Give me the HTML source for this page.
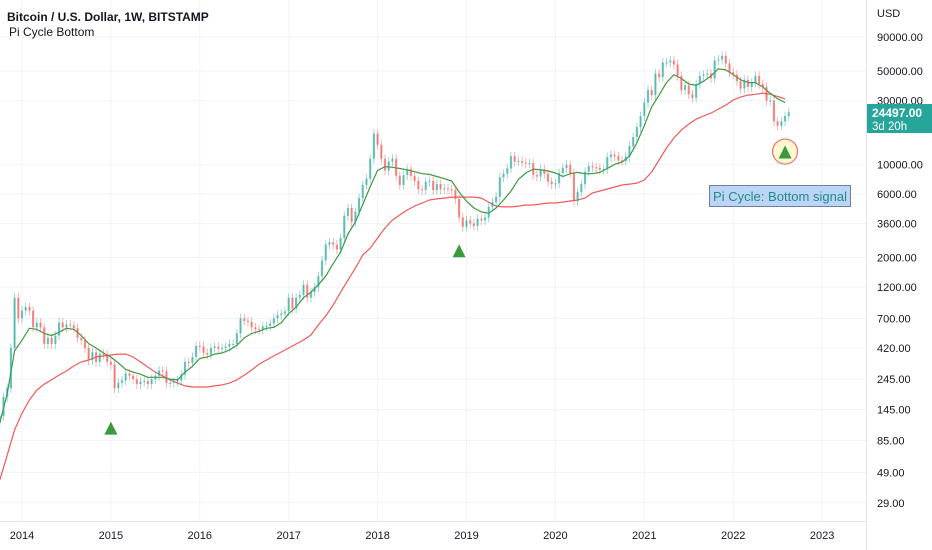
<!DOCTYPE html>
<html><head><meta charset="utf-8"><style>
html,body{margin:0;padding:0;background:#fff;width:932px;height:550px;overflow:hidden;font-family:"Liberation Sans",sans-serif;}
svg{display:block}
</style></head><body>
<svg id="chart" width="932" height="550" viewBox="0 0 932 550" xmlns="http://www.w3.org/2000/svg">
<g id="grid"></g>
<g id="lines"></g>
<g id="candles"></g>
<g id="marks"></g>
<g id="axes"></g>
<text x="7" y="21" font-size="12" fill="#131722" font-weight="bold">Bitcoin / U.S. Dollar, 1W, BITSTAMP</text>
<text x="9" y="36" font-size="12" fill="#131722">Pi Cycle Bottom</text>
</svg>
<script>
// Biweekly closes from Oct 2013
const closes=[130,180,210,420,1000,700,
800,850,800,600,650,600,450,500,450,520,650,600,630,620,590,500,480,420,340,390,330,380,375,330,
315,210,230,240,270,260,245,225,235,237,225,245,260,285,280,230,230,235,240,265,330,325,360,435,
430,385,375,420,430,415,420,430,450,450,540,700,670,660,600,580,575,610,615,640,700,740,760,790,
1000,830,1000,1050,1250,1000,1100,1200,1450,1900,2500,2600,2500,2300,2800,4100,4700,3700,4400,5600,7000,7800,11000,17000,
14000,11000,9000,10500,11000,8200,7000,8300,9200,8200,7500,6500,6400,7400,7500,6400,7100,6500,6600,6500,6400,5500,4000,3400,
3800,3600,3450,3900,3800,4000,4800,5200,5700,8000,8500,9300,11500,10500,10600,10300,10200,10200,8300,8100,9200,8500,7400,7100,
7200,8600,9400,9900,8600,5300,6200,7100,8800,9700,9500,9400,9100,9200,11300,11800,11500,10700,10600,11400,13700,16000,19000,23000,
29000,36000,33000,48000,45000,58000,58000,60000,56000,46000,36000,39000,33500,31500,40000,46000,47000,48000,44000,60000,61000,65000,57000,49000,
47000,42000,37000,43000,38000,41000,46000,40000,38000,30000,30000,21000,19500,21000,23000,24497];
// Monthly values from Oct 2013
const greenMA=[115,190,400,
480,590,580,540,520,550,590,580,520,453,420,385,
359,324,290,277,267,253,253,253,245,242,277,306,
350,359,378,385,405,440,500,540,560,590,600,650,
760,850,1000,1100,1250,1450,1800,2200,3000,3700,5000,6800,
9000,9600,9500,9300,9100,8800,8500,8400,8100,7800,7500,6200,
5300,4700,4400,4300,4700,5400,6300,7700,8600,9200,9100,8900,
8600,8100,8500,8700,8500,8500,8700,9300,10000,10400,11500,14500,
19500,27000,33000,41000,47000,44000,40000,39000,42000,46000,52000,51000,
47000,43000,41000,41000,38000,34000,31000,29000];
const redMA=[43,66,102,
136,171,203,225,242,263,282,308,330,341,359,366,
372,378,378,359,330,302,277,259,242,229,218,214,
214,214,218,222,229,242,263,287,318,341,366,392,
420,450,482,525,624,729,881,1100,1355,1667,2090,2355,
2800,3330,3820,4170,4540,4860,5130,5400,5500,5580,5680,5680,
5680,5680,5580,5210,4860,4790,4790,4860,4950,4950,5040,5130,
5130,5210,5310,5400,5580,6100,6310,6530,6760,7000,7110,7230,
7620,8750,10770,13240,15740,18070,20040,21830,23010,24210,25940,27800,
30340,31900,33000,33500,34200,33500,32300,30900];
const signalIdx=[30,124,212];
const signalLow=[150,3200,17600];
const yTicks=[90000,50000,30000,10000,6000,3600,2000,1200,700,420,245,145,85,49,29];
const yearLabels=["2014","2015","2016","2017","2018","2019","2020","2021","2022","2023"];
const lastPrice="24497.00", countdown="3d 20h";

const NS="http://www.w3.org/2000/svg";
const L90=Math.log10(90000);
function y(v){return 37+(L90-Math.log10(v))*133.4;}
function xt(t){return 22+(t-2014)*88.9;}
function xCandle(j){return xt(2013.75+j/24);}
function xMonth(i){return xt(2013.75+i/12);}
function mk(tag,attrs,parent){const e=document.createElementNS(NS,tag);for(const k in attrs)e.setAttribute(k,attrs[k]);parent.appendChild(e);return e;}

const grid=document.getElementById('grid'),axes=document.getElementById('axes'),lines=document.getElementById('lines'),cg=document.getElementById('candles'),marks=document.getElementById('marks'),svg=document.getElementById('chart');

yTicks.forEach(v=>{
  const yy=y(v);
  const g=mk('line',{x1:0,x2:866,y1:yy,y2:yy,stroke:'#f0f3fa','stroke-width':1},grid);
  
  
  const t=mk('text',{x:877,y:yy+4,'font-size':11,fill:'#131722'},axes);
  t.textContent=v.toFixed(2);
  
  
});
yearLabels.forEach(s=>{
  const xx=xt(+s);
  const g=mk('line',{x1:xx,x2:xx,y1:0,y2:521,stroke:'#f0f3fa','stroke-width':1},grid);
  
  
  const t=mk('text',{x:xx,y:539,'font-size':11,fill:'#131722','text-anchor':'middle'},axes);
  t.textContent=s;
  
  
});
const ax1=mk('line',{x1:866.5,x2:866.5,y1:0,y2:550,stroke:'#e0e3eb'},axes);


const ax2=mk('line',{x1:0,x2:866,y1:521.5,y2:521.5,stroke:'#e0e3eb'},axes);


const ut=mk('text',{x:877,y:17,'font-size':11,fill:'#131722'},axes);
ut.textContent="USD";



function path(arr,color,name){
  const d=arr.map((v,i)=>(i?'L':'M')+xMonth(i).toFixed(1)+','+y(v).toFixed(1)).join('');
  const p=mk('path',{d:d,fill:'none',stroke:color,'stroke-width':1.2,'stroke-linejoin':'round'},lines);
  
  
}
path(redMA,'#f05a5a','red-sma-line');
path(greenMA,'#3c9a3c','green-ema-line');

closes.forEach((c,j)=>{
  const o=j?closes[j-1]:c*0.9;
  const up=c>=o, col=up?'#26a69a':'#ef5350';
  const xx=xCandle(j);
  const hi=Math.max(o,c)*1.08, lo=Math.min(o,c)*0.92;
  const w=mk('line',{x1:xx,x2:xx,y1:y(hi),y2:y(lo),stroke:col,'stroke-width':0.8,opacity:0.55},cg);
  
  
  const top=y(Math.max(o,c)),bot=y(Math.min(o,c));
  const r=mk('rect',{x:xx-1.1,y:top,width:2.2,height:Math.max(1,bot-top),fill:col,opacity:0.6},cg);
  
  
});

signalIdx.forEach((j,k)=>{
  const xx=xCandle(j);
  const ty=y(signalLow[k])+14;
  if(k===signalIdx.length-1){
    const c=mk('circle',{cx:xx,cy:ty+6,r:12.5,fill:'#fff8d0',stroke:'#f07070','stroke-width':1.2},marks);
    
    
  }
  const t=mk('polygon',{points:`${xx-6.5},${ty+13} ${xx+6.5},${ty+13} ${xx},${ty}`,fill:'#3a9a3e'},marks);
  
  
});

const lb=mk('g',{},svg);


mk('rect',{x:709.5,y:185.5,width:141,height:21,fill:'#bcd5f5',stroke:'#6b7fa6'},lb);
const lt=mk('text',{x:780,y:201,'font-size':12.5,fill:'#1f8a8e','text-anchor':'middle',textLength:134,lengthAdjust:'spacingAndGlyphs'},lb);
lt.textContent="Pi Cycle: Bottom signal";

const pl=mk('g',{},svg);


mk('rect',{x:867,y:104,width:65,height:29,fill:'#26a69a'},pl);
const p1=mk('text',{x:872,y:117,'font-size':12,fill:'#fff','font-weight':'bold'},pl);p1.textContent=lastPrice;
const p2=mk('text',{x:872,y:130,'font-size':11.5,fill:'#fff'},pl);p2.textContent=countdown;
</script>
</body></html>
